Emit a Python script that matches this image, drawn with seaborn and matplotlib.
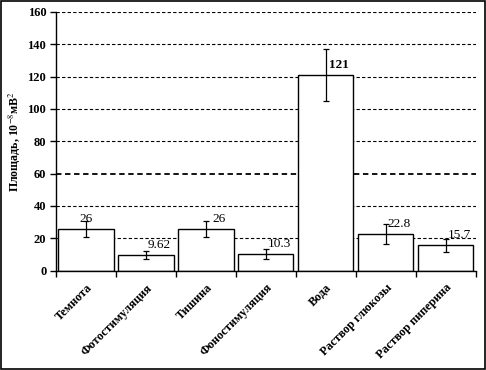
import matplotlib
matplotlib.use("Agg")
import matplotlib.pyplot as plt
import numpy as np
import pandas as pd
import seaborn as sns

categories = ["Темнота", "Фотостимуляция", "Тишина", "Фоностимуляция",
              "Вода", "Раствор глюкозы", "Раствор пиперина"]
values = [26, 9.62, 26, 10.3, 121, 22.8, 15.7]
errors = [5, 2.5, 5, 3, 16, 6, 4]
value_labels = ["26", "9.62", "26", "10.3", "121", "22.8", "15.7"]
y_ticks = [0, 20, 40, 60, 80, 100, 120, 140, 160]

sns.set_style("white")
plt.rcParams["font.family"] = ["Liberation Serif", "DejaVu Serif"]
plt.rcParams["mathtext.fontset"] = "stix"
plt.rcParams["text.color"] = "black"
plt.rcParams["axes.labelcolor"] = "black"
plt.rcParams["xtick.color"] = "black"
plt.rcParams["ytick.color"] = "black"

df = pd.DataFrame({"cat": categories, "val": values})

fig = plt.figure(figsize=(4.86, 3.70), dpi=100)
ax = fig.add_axes([0.1152, 0.2684, 0.8638, 0.6996])

# grid behind bars
for t in y_ticks[1:]:
    ax.axhline(t, color="black", lw=1.3 if t == 60 else 0.8,
               ls=(0, (3, 2)), zorder=0)

sns.barplot(data=df, x="cat", y="val", color="white", edgecolor="black",
            linewidth=1, width=0.92, errorbar=None, ax=ax, zorder=2,
            saturation=1)
for p in ax.patches:
    p.set_facecolor("white")

ax.errorbar(range(len(values)), values, yerr=errors, fmt="none",
            ecolor="black", elinewidth=0.9, capsize=2.5, capthick=0.9,
            zorder=3)

for i, (v, lab) in enumerate(zip(values, value_labels)):
    weight = "bold" if v > 100 else "normal"
    dx = 0.0 if i == 0 else 0.22
    ax.text(i + dx, v + 2.5, lab, ha="center", va="bottom",
            fontsize=9.5, fontweight=weight, color="black", zorder=4)

ax.set_xlim(-0.5, 6.5)
ax.set_ylim(0, 160)
ax.set_yticks(y_ticks)
ax.set_yticklabels([str(t) for t in y_ticks], fontsize=9, fontweight="bold")
ax.set_xticks(range(len(categories)))
ax.set_xticklabels(categories, rotation=45, ha="right", va="top",
                   rotation_mode="anchor", fontsize=8.7, fontweight="bold")
ax.set_xticks(np.arange(-0.5, 7, 1), minor=True)
ax.tick_params(axis="x", which="major", length=0, pad=8)
ax.tick_params(axis="x", which="minor", length=4, width=1, direction="out",
               bottom=True)
ax.tick_params(axis="y", length=4, width=1, direction="out", left=True,
               pad=3)

ax.set_xlabel("")
ax.set_ylabel("Площадь, 10$^{-8}$мВ$^{2}$", fontsize=8.6, fontweight="bold")
ax.yaxis.set_label_coords(-0.078, 0.5)

for s in ["top", "right"]:
    ax.spines[s].set_visible(False)
for s in ["left", "bottom"]:
    ax.spines[s].set_color("black")
    ax.spines[s].set_linewidth(1)

# outer chart border
fig.patches.append(plt.Rectangle((0.002, 0.003), 0.995, 0.994,
                                 transform=fig.transFigure, fill=False,
                                 edgecolor="black", lw=1.2))

fig.savefig("out.png", dpi=100)
